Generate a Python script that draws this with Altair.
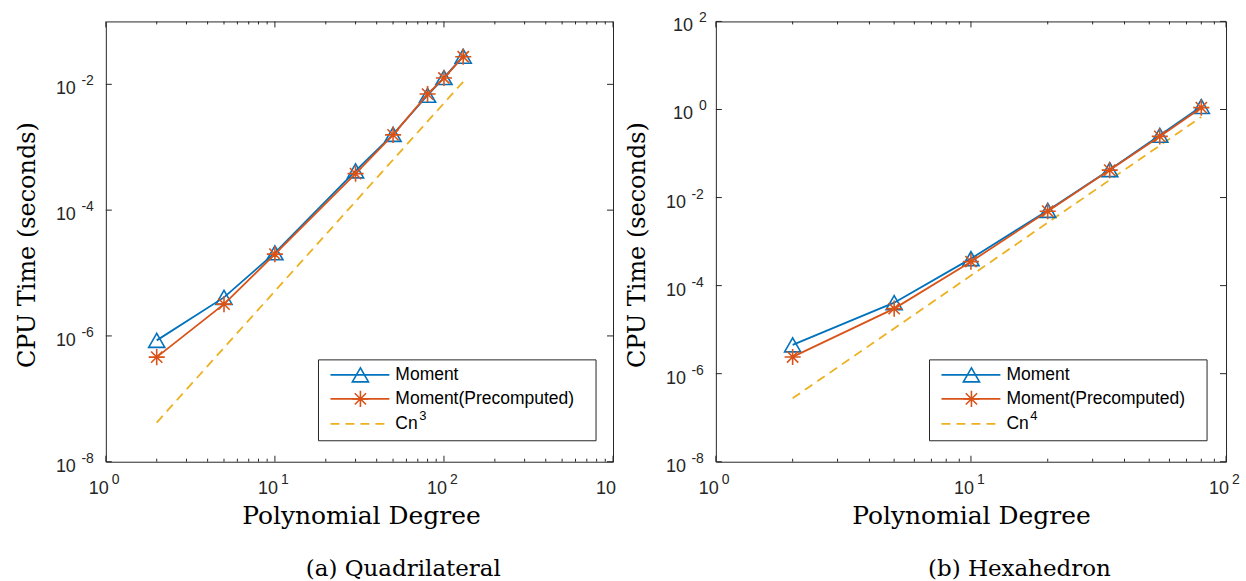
import altair as alt
import pandas as pd

# ---- measured CPU times (seconds) ----
quad_degree = [2, 5, 10, 30, 50, 80, 100, 130]
quad_moment = [8.5e-7, 4.1e-6, 2.1e-5, 4.2e-4, 1.6e-3, 6.7e-3, 1.28e-2, 2.8e-2]
quad_precomputed = [4.6e-7, 3.2e-6, 2.0e-5, 3.8e-4, 1.57e-3, 7.0e-3, 1.26e-2, 2.75e-2]
quad_ref_degree = [2, 130]
quad_ref_time = [4.2e-8, 1.1e-2]

hex_degree = [2, 5, 10, 20, 35, 55, 80]
hex_moment = [4.5e-6, 4.1e-5, 4.1e-4, 5.1e-3, 4.3e-2, 2.6e-1, 1.17]
hex_precomputed = [2.4e-6, 3.0e-5, 3.5e-4, 4.9e-3, 4.2e-2, 2.45e-1, 1.1]
hex_ref_degree = [2, 80]
hex_ref_time = [2.75e-7, 0.68]

# ---- ticks and tick labels ----
quad_x_major = [1, 10, 100, 1000]
quad_x_exp = ["0", "1", "2", ""]
quad_x_minor = [2, 3, 4, 5, 6, 7, 8, 9, 20, 30, 40, 50, 60, 70, 80, 90,
                200, 300, 400, 500, 600, 700, 800, 900]
quad_y_major = [1e-8, 1e-6, 1e-4, 1e-2]
quad_y_exp = ["-8", "-6", "-4", "-2"]

hex_x_major = [1, 10, 100]
hex_x_exp = ["0", "1", "2"]
hex_x_minor = [2, 3, 4, 5, 6, 7, 8, 9, 20, 30, 40, 50, 60, 70, 80, 90]
hex_y_major = [1e-8, 1e-6, 1e-4, 1e-2, 1, 100]
hex_y_exp = ["-8", "-6", "-4", "-2", "0", "2"]

BLUE = "#0072BD"
ORANGE = "#D95319"
YELLOW = "#EDB120"
AX = "#262626"
SANS = "Liberation Sans"
SERIF = "DejaVu Serif"
ASTERISK = "M0,-1L0,1M-1,0L1,0M-0.7,-0.7L0.7,0.7M-0.7,0.7L0.7,-0.7"
DASH = [9, 6]
MSIZE = 260
LW = 1.8


def panel(W, H, xdom, ydom, degree, moment, pre, ref_deg, ref_time, power,
          xmaj, xexp, xmin, ymaj, yexp, caption, title_x, caption_x,
          leg_left, anchor_x):
    xs = alt.Scale(type="log", domain=xdom, nice=False)
    ys = alt.Scale(type="log", domain=ydom, nice=False)

    def X(f):
        return alt.X(f, type="quantitative", scale=xs, axis=None)

    def Y(f):
        return alt.Y(f, type="quantitative", scale=ys, axis=None)

    d_m = pd.DataFrame({"n": degree, "t": moment})
    d_p = pd.DataFrame({"n": degree, "t": pre})
    d_r = pd.DataFrame({"n": ref_deg, "t": ref_time})

    layers = []
    # reference slope
    layers.append(alt.Chart(d_r).mark_line(color=YELLOW, strokeWidth=LW, strokeDash=DASH)
                  .encode(x=X("n"), y=Y("t")))
    # timing curves
    layers.append(alt.Chart(d_m).mark_line(color=BLUE, strokeWidth=LW)
                  .encode(x=X("n"), y=Y("t")))
    layers.append(alt.Chart(d_m).mark_point(shape="triangle-up", filled=False, color=BLUE,
                                            size=MSIZE, strokeWidth=1.6, opacity=1)
                  .encode(x=X("n"), y=Y("t")))
    layers.append(alt.Chart(d_p).mark_line(color=ORANGE, strokeWidth=LW)
                  .encode(x=X("n"), y=Y("t")))
    layers.append(alt.Chart(d_p).mark_point(shape=ASTERISK, filled=False, color=ORANGE,
                                            size=MSIZE, strokeWidth=1.6, opacity=1)
                  .encode(x=X("n"), y=Y("t")))

    # inward ticks on all four sides
    d_xmaj = pd.DataFrame({"v": xmaj, "e": xexp})
    d_xmin = pd.DataFrame({"v": xmin})
    d_ymaj = pd.DataFrame({"v": ymaj, "e": yexp})
    for d, ln in ((d_xmaj, 6), (d_xmin, 3)):
        layers.append(alt.Chart(d).mark_rule(color=AX, strokeWidth=1)
                      .encode(x=X("v"), y=alt.value(H), y2=alt.value(H - ln)))
        layers.append(alt.Chart(d).mark_rule(color=AX, strokeWidth=1)
                      .encode(x=X("v"), y=alt.value(0), y2=alt.value(ln)))
    layers.append(alt.Chart(d_ymaj).mark_rule(color=AX, strokeWidth=1)
                  .encode(y=Y("v"), x=alt.value(0), x2=alt.value(6)))
    layers.append(alt.Chart(d_ymaj).mark_rule(color=AX, strokeWidth=1)
                  .encode(y=Y("v"), x=alt.value(W), x2=alt.value(W - 6)))

    # x tick labels: 10 with a raised exponent
    layers.append(alt.Chart(d_xmaj).mark_text(align="right", dx=3, baseline="alphabetic",
                                              font=SANS, fontSize=18, color=AX)
                  .encode(x=X("v"), y=alt.value(H + 32), text=alt.value("10")))
    layers.append(alt.Chart(d_xmaj).mark_text(align="left", dx=6, baseline="alphabetic",
                                              font=SANS, fontSize=14, color=AX)
                  .encode(x=X("v"), y=alt.value(H + 22), text="e:N"))

    # y tick labels
    neg = d_ymaj[d_ymaj["e"].str.startswith("-")]
    pos = d_ymaj[~d_ymaj["e"].str.startswith("-")]
    for d, base_x, exp_x in ((neg, -30, -12), (pos, -23, -9)):
        if len(d) == 0:
            continue
        layers.append(alt.Chart(d).mark_text(align="right", dy=10, baseline="alphabetic",
                                             font=SANS, fontSize=18, color=AX)
                      .encode(y=Y("v"), x=alt.value(base_x), text=alt.value("10")))
        layers.append(alt.Chart(d).mark_text(align="right", dy=1, baseline="alphabetic",
                                             font=SANS, fontSize=14, color=AX)
                      .encode(y=Y("v"), x=alt.value(exp_x), text="e:N"))

    one = pd.DataFrame({"k": [0]})
    # axis titles and caption
    layers.append(alt.Chart(one).mark_text(angle=270, font=SERIF, fontSize=24, color="black",
                                           baseline="middle", align="center")
                  .encode(x=alt.value(-78), y=alt.value(224), text=alt.value("CPU Time (seconds)")))
    layers.append(alt.Chart(one).mark_text(font=SERIF, fontSize=25, color="black",
                                           baseline="middle", align="center")
                  .encode(x=alt.value(title_x), y=alt.value(H + 54), text=alt.value("Polynomial Degree")))
    layers.append(alt.Chart(one).mark_text(font=SERIF, fontSize=23, color="black",
                                           baseline="middle", align="center")
                  .encode(x=alt.value(caption_x), y=alt.value(H + 107), text=alt.value(caption)))

    # legend box
    L = leg_left
    rows = [354, 378, 403]
    layers.append(alt.Chart(one).mark_rect(fill="white", stroke=AX, strokeWidth=1)
                  .encode(x=alt.value(L), x2=alt.value(L + 278),
                          y=alt.value(339), y2=alt.value(420)))
    for r, col, dash in ((rows[0], BLUE, None), (rows[1], ORANGE, None), (rows[2], YELLOW, DASH)):
        kw = dict(color=col, strokeWidth=LW)
        if dash:
            kw["strokeDash"] = dash
        layers.append(alt.Chart(one).mark_rule(**kw)
                      .encode(x=alt.value(L + 12), x2=alt.value(L + 71), y=alt.value(r)))
    layers.append(alt.Chart(one).mark_point(shape="triangle-up", filled=False, color=BLUE,
                                            size=MSIZE, strokeWidth=1.6, opacity=1)
                  .encode(x=alt.value(L + 42), y=alt.value(rows[0])))
    layers.append(alt.Chart(one).mark_point(shape=ASTERISK, filled=False, color=ORANGE,
                                            size=MSIZE, strokeWidth=1.6, opacity=1)
                  .encode(x=alt.value(L + 42), y=alt.value(rows[1])))
    for r, label in ((rows[0], "Moment"), (rows[1], "Moment(Precomputed)"), (rows[2], "Cn")):
        layers.append(alt.Chart(one).mark_text(align="left", baseline="middle", font=SANS,
                                               fontSize=17.5, color="black")
                      .encode(x=alt.value(L + 77), y=alt.value(r), text=alt.value(label)))
    layers.append(alt.Chart(one).mark_text(align="left", baseline="middle", font=SANS,
                                           fontSize=13, color="black")
                  .encode(x=alt.value(L + 101), y=alt.value(rows[2] - 8), text=alt.value(power)))

    # invisible frame fixing the page extent
    layers.append(alt.Chart(one).mark_rule(color="white", opacity=0)
                  .encode(x=alt.value(anchor_x), y=alt.value(-20), y2=alt.value(H + 120)))

    return alt.layer(*layers).properties(width=W, height=H)


left = panel(508, 441, [1, 1000], [1e-8, 1e-1], quad_degree, quad_moment, quad_precomputed,
             quad_ref_degree, quad_ref_time, "3", quad_x_major, quad_x_exp, quad_x_minor,
             quad_y_major, quad_y_exp, "(a) Quadrilateral", 256, 298, 213, -105)
right = panel(511, 441, [1, 100], [1e-8, 1e2], hex_degree, hex_moment, hex_precomputed,
              hex_ref_degree, hex_ref_time, "4", hex_x_major, hex_x_exp, hex_x_minor,
              hex_y_major, hex_y_exp, "(b) Hexahedron", 256, 304, 214, 530)

chart = (
    alt.hconcat(left, right, spacing=103, bounds="flush")
    .properties(padding=0, background="white")
    .configure_view(stroke=AX, strokeWidth=1)
)

chart.save("out.html", embed_options={"renderer": "svg", "actions": False})
